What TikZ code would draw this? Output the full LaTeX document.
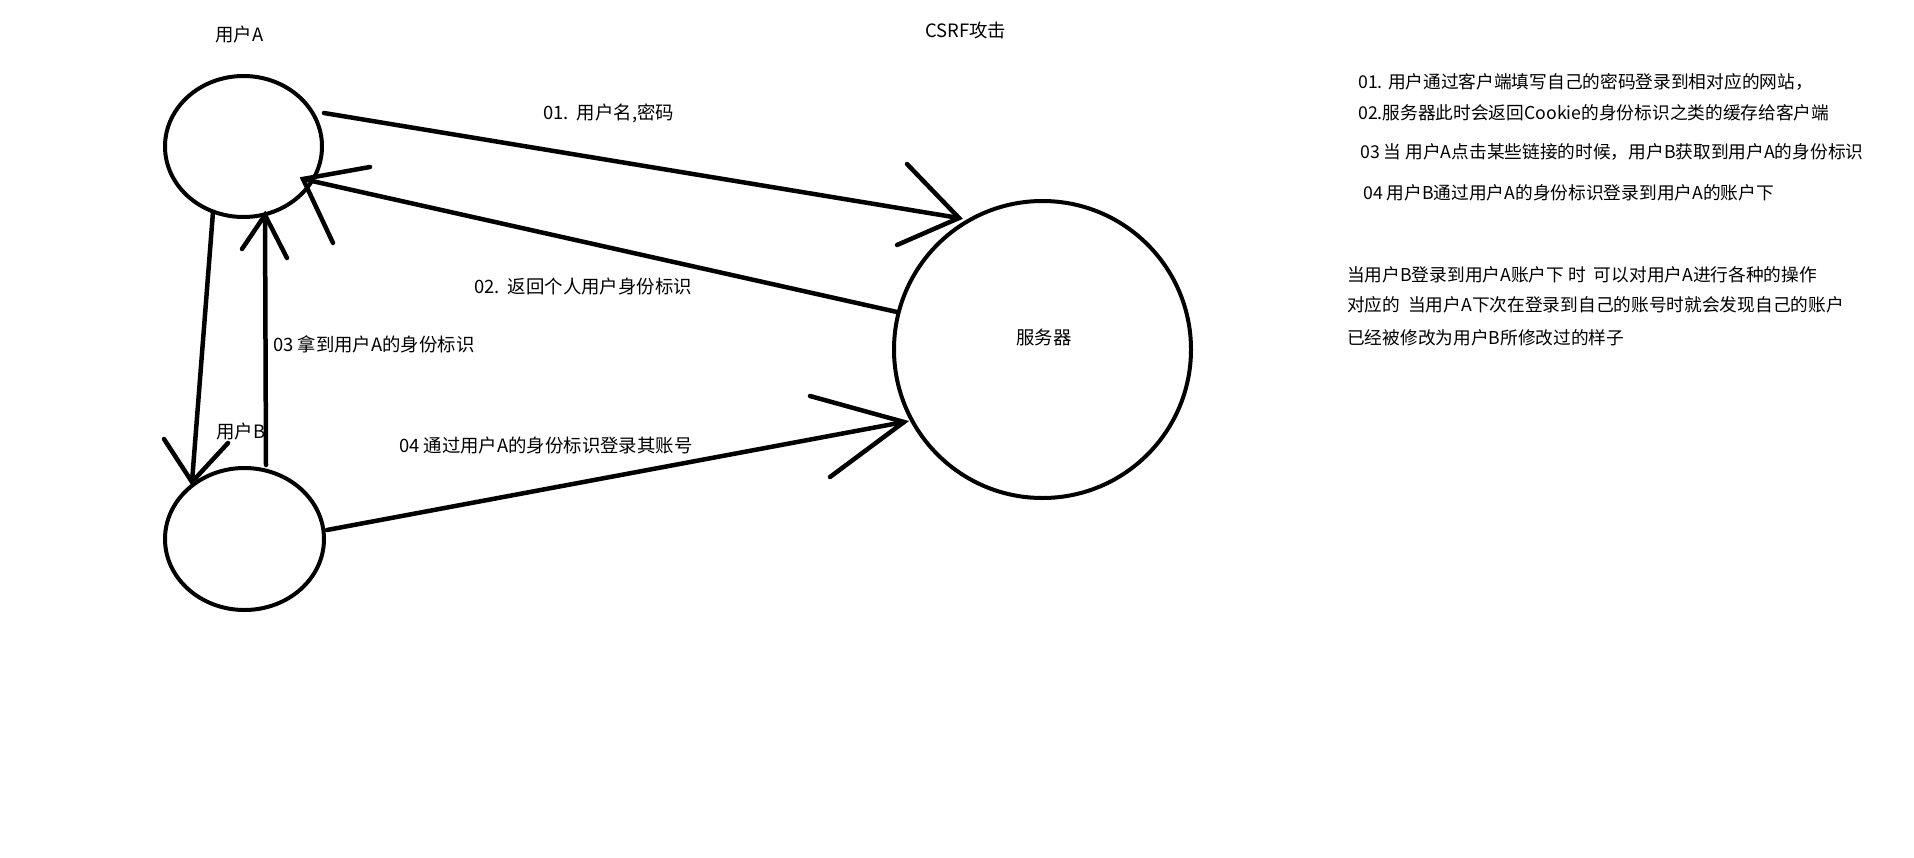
\documentclass[tikz,border=0pt]{standalone}
\usepackage{fontspec}
\setmainfont{Noto Sans CJK SC}
\usetikzlibrary{shapes.geometric}
\begin{document}
\begin{tikzpicture}[x=1pt,y=-1pt,
  stroke/.style={line width=4.5pt, line cap=round},
  party/.style={draw, ellipse, inner sep=0pt, line width=4pt},
  lab/.style={anchor=west, inner sep=0pt, font=\fontsize{18.4}{20}\selectfont},
  note/.style={anchor=west, inner sep=0pt, font=\fontsize{17.7}{20}\selectfont}]
\useasboundingbox (0,0) rectangle (1914,857);
% nodes
\node[party, minimum width=157pt, minimum height=141pt] (ua) at (243.5,146.5) {};
\node[party, minimum width=159pt, minimum height=142pt] (ub) at (244.5,539) {};
\node[party, circle, minimum size=297pt] (srv) at (1042.5,349.5) {};
\node[inner sep=0pt, font=\fontsize{18.4}{20}\selectfont] (srvt) at (1044,338) {服务器};
% labels
\node[lab] (tA) at (215,35) {用户A};
\node[lab] (tB) at (216,432) {用户B};
\node[lab] (title) at (925,31) {CSRF攻击};
\node[lab] (l1) at (543,113.5) {01.~~用户名,密码};
\node[lab] (l2) at (474,287) {02.~~返回个人用户身份标识};
\node[lab] (l3) at (273,344) {03 拿到用户A的身份标识};
\node[lab] (l4) at (399,446) {04 通过用户A的身份标识登录其账号};
% notes
\node[note] (n1) at (1358,82) {01. 用户通过客户端填写自己的密码登录到相对应的网站，};
\node[note] (n2) at (1358,113) {02.服务器此时会返回Cookie的身份标识之类的缓存给客户端};
\node[note] (n3) at (1360,152) {03 当 用户A点击某些链接的时候，用户B获取到用户A的身份标识};
\node[note] (n4) at (1363,193) {04 用户B通过用户A的身份标识登录到用户A的账户下};
\node[note] (n5) at (1347,275) {当用户B登录到用户A账户下 时~~可以对用户A进行各种的操作};
\node[note] (n6) at (1347,305) {对应的~~当用户A下次在登录到自己的账号时就会发现自己的账户};
\node[note] (n7) at (1347,338) {已经被修改为用户B所修改过的样子};
% connector end points
\coordinate (s1) at (324,113);  \coordinate (t1) at (959,218);
\coordinate (b1a) at (907,164); \coordinate (b1b) at (897,245);
\coordinate (s2) at (897,312);  \coordinate (t2) at (303,179);
\coordinate (b2a) at (370,167); \coordinate (b2b) at (333,243);
\coordinate (sd) at (213,212);  \coordinate (td) at (192,482);
\coordinate (bda) at (164,439); \coordinate (bdb) at (228,443);
\coordinate (s3) at (266,465);  \coordinate (t3) at (265,215);
\coordinate (b3a) at (242,249); \coordinate (b3b) at (287,258);
\coordinate (s4) at (327,530);  \coordinate (t4) at (904,422);
\coordinate (b4a) at (810,396); \coordinate (b4b) at (830,477);
% connectors
\draw[stroke] (s1) -- (t1); \draw[stroke] (b1a) -- (t1) -- (b1b);
\draw[stroke] (s2) -- (t2); \draw[stroke] (b2a) -- (t2) -- (b2b);
\draw[stroke] (sd) -- (td); \draw[stroke] (bda) -- (td) -- (bdb);
\draw[stroke] (s3) -- (t3); \draw[stroke] (b3a) -- (t3) -- (b3b);
\draw[stroke] (s4) -- (t4); \draw[stroke] (b4a) -- (t4) -- (b4b);
\end{tikzpicture}
\end{document}
